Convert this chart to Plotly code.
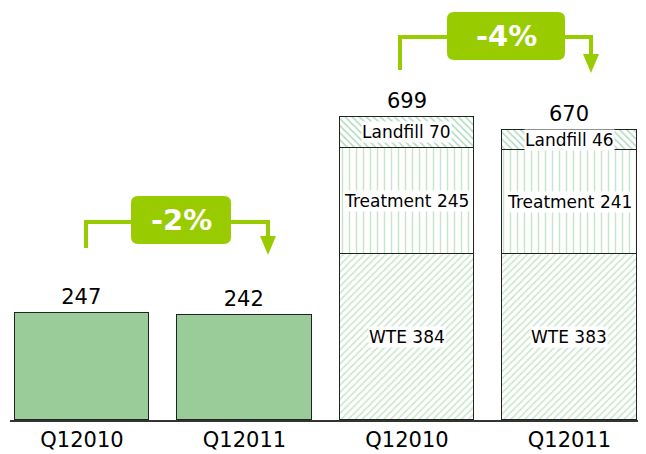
import plotly.graph_objects as go

# data
categories = ["Q12010", "Q12011", "Q12010", "Q12011"]
solid_values = [247, 242]
wte = [384, 383]
treatment = [245, 241]
landfill = [70, 46]
totals = [699, 670]
changes = ["-2%", "-4%"]

GREEN = "#99cc00"
FONT = "DejaVu Sans"

# page body adds an 8px offset; helpers take reference-picture pixels
OFF = 8
X0, XSPAN, XR = 10, 636, (-0.443, 3.471)
Y_BASE, Y_TOP_PX = 420, 8
YR = (0, 951)
BAR_W = 0.83


def px_x(p):
    return XR[0] + (p - X0) / XSPAN * (XR[1] - XR[0])


def px_y(p):
    return (Y_BASE - p) / (Y_BASE - Y_TOP_PX) * YR[1]


fig = go.Figure()

fig.add_trace(go.Bar(
    x=[0, 1], y=solid_values, width=BAR_W,
    marker=dict(color="#99cc99", line=dict(color="#222222", width=1.5)),
    text=[str(v) for v in solid_values], textposition="outside",
    textfont=dict(size=21, color="#000000", family=FONT),
    cliponaxis=False, showlegend=False, hoverinfo="skip",
))

fig.add_trace(go.Bar(
    x=[2, 3], y=wte, width=BAR_W,
    marker=dict(color="white", line=dict(color="#222222", width=1.5),
                pattern=dict(shape="/", fgcolor="#92cc98", bgcolor="white", size=5, solidity=0.3)),
    showlegend=False, hoverinfo="skip",
))
fig.add_trace(go.Bar(
    x=[2, 3], y=treatment, width=BAR_W,
    marker=dict(color="white", line=dict(color="#222222", width=1.5),
                pattern=dict(shape="|", fgcolor="#92cc98", bgcolor="white", size=7, solidity=0.22)),
    showlegend=False, hoverinfo="skip",
))
fig.add_trace(go.Bar(
    x=[2, 3], y=landfill, width=BAR_W,
    marker=dict(color="white", line=dict(color="#222222", width=1.5),
                pattern=dict(shape="\\", fgcolor="#5fb47f", bgcolor="white", size=5, solidity=0.3)),
    showlegend=False, hoverinfo="skip",
))

# segment labels
for i in range(2):
    xi = 2 + i
    segs = [("WTE", wte[i], wte[i] / 2),
            ("Treatment", treatment[i], wte[i] + treatment[i] / 2),
            ("Landfill", landfill[i], wte[i] + treatment[i] + landfill[i] / 2)]
    for name, v, ymid in segs:
        fig.add_annotation(x=xi, y=ymid, text=f"{name} {v}", showarrow=False,
                           font=dict(size=17, color="#000000", family=FONT),
                           bgcolor="white", borderpad=0)
    fig.add_annotation(x=xi, y=totals[i], text=str(totals[i]), showarrow=False,
                       yanchor="bottom", yshift=2,
                       font=dict(size=21, color="#000000", family=FONT))


def change_arrow(label, xl, xr, y_line, y_left, y_tip, box):
    lw = 4
    fig.add_shape(type="path",
                  path=f"M {px_x(xl)} {px_y(y_left)} L {px_x(xl)} {px_y(y_line)} "
                       f"L {px_x(xr)} {px_y(y_line)} L {px_x(xr)} {px_y(y_tip - 16)}",
                  line=dict(color=GREEN, width=lw))
    fig.add_shape(type="path",
                  path=f"M {px_x(xr - 8)} {px_y(y_tip - 19)} L {px_x(xr + 8)} {px_y(y_tip - 19)} "
                       f"L {px_x(xr)} {px_y(y_tip)} Z",
                  fillcolor=GREEN, line=dict(color=GREEN, width=0))
    bx0, by0, bx1, by1 = box
    r = 7
    p = (f"M {px_x(bx0 + r)} {px_y(by0)} L {px_x(bx1 - r)} {px_y(by0)} "
         f"Q {px_x(bx1)} {px_y(by0)} {px_x(bx1)} {px_y(by0 + r)} "
         f"L {px_x(bx1)} {px_y(by1 - r)} Q {px_x(bx1)} {px_y(by1)} {px_x(bx1 - r)} {px_y(by1)} "
         f"L {px_x(bx0 + r)} {px_y(by1)} Q {px_x(bx0)} {px_y(by1)} {px_x(bx0)} {px_y(by1 - r)} "
         f"L {px_x(bx0)} {px_y(by0 + r)} Q {px_x(bx0)} {px_y(by0)} {px_x(bx0 + r)} {px_y(by0)} Z")
    fig.add_shape(type="path", path=p, fillcolor=GREEN, line=dict(color=GREEN, width=0))
    fig.add_annotation(x=px_x((bx0 + bx1) / 2), y=px_y((by0 + by1) / 2), text=f"<b>{label}</b>",
                       showarrow=False, font=dict(size=29, color="white", family=FONT))


change_arrow(changes[0], 86, 268, 222, 248, 255, (131, 196, 231, 244))
change_arrow(changes[1], 400, 591, 37, 70, 73, (447, 12, 565, 60))

fig.update_layout(
    width=646 - OFF, height=454 - OFF,
    margin=dict(l=X0 - OFF, r=0, t=Y_TOP_PX - OFF, b=454 - Y_BASE),
    paper_bgcolor="white", plot_bgcolor="white",
    barmode="stack", bargap=0,
    xaxis=dict(range=list(XR), tickvals=[0, 1, 2, 3], ticktext=categories,
               showgrid=False, zeroline=False, showline=True, linecolor="#333333", linewidth=1.5,
               ticks="", tickfont=dict(size=21, color="#000000", family=FONT)),
    yaxis=dict(range=list(YR), visible=False, showgrid=False, zeroline=False),
    font=dict(family=FONT),
)

fig.write_html("out.html")
